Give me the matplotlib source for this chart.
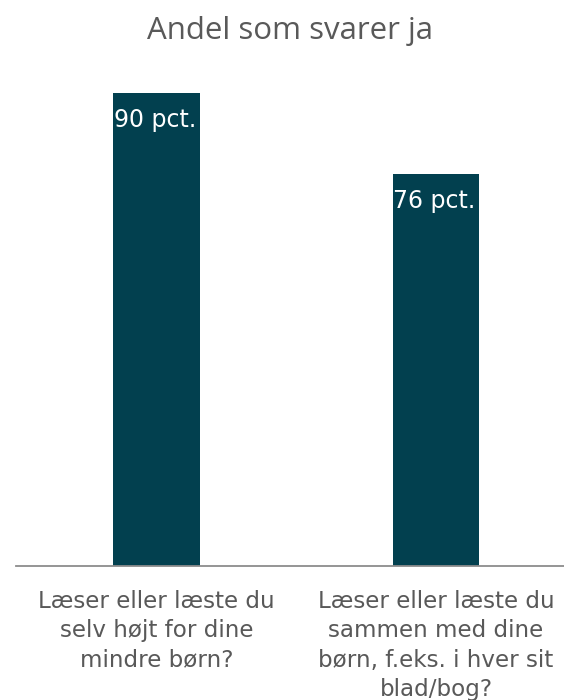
import matplotlib.pyplot as plt

# data
kategorier = [
    "Læser eller læste du\nselv højt for dine\nmindre børn?",
    "Læser eller læste du\nsammen med dine\nbørn, f.eks. i hver sit\nblad/bog?",
]
andel = [90, 76]
titel = "Andel som svarer ja"

bar_farve = "#02404F"
tekst_farve = "#595959"

fig = plt.figure(figsize=(5.64, 7.0), dpi=100)
ax = fig.add_axes([16 / 564, 1 - 566 / 700, 1 - 16 / 564, (566 - 80) / 700])

x = list(range(len(andel)))
bars = ax.bar(x, andel, width=0.311, color=bar_farve)

# aksen starter ikke ved 0 i originalen
ax.set_ylim(8.2, 92.25)
ax.set_xlim(-0.503, 1.458)

for b, v in zip(bars, andel):
    ax.annotate(f"{v} pct.", (b.get_x(), b.get_height()),
                xytext=(0.5, -11), textcoords="offset points",
                ha="left", va="top", color="white", fontsize=17,
                family="DejaVu Sans")

ax.set_xticks(x)
ax.set_xticklabels(kategorier, fontsize=16.6, color=tekst_farve,
                   family="DejaVu Sans", linespacing=1.36)
ax.tick_params(axis="x", length=0, pad=17)
ax.set_yticks([])

for s in ["top", "right", "left"]:
    ax.spines[s].set_visible(False)
ax.spines["bottom"].set_color("#8c8c8c")
ax.spines["bottom"].set_linewidth(1.3)

fig.text(290 / 564, 1 - 31 / 700, titel, ha="center", va="center",
         fontsize=22.5, color=tekst_farve, family="Open Sans")

fig.savefig("out.png", dpi=100, facecolor="white")
